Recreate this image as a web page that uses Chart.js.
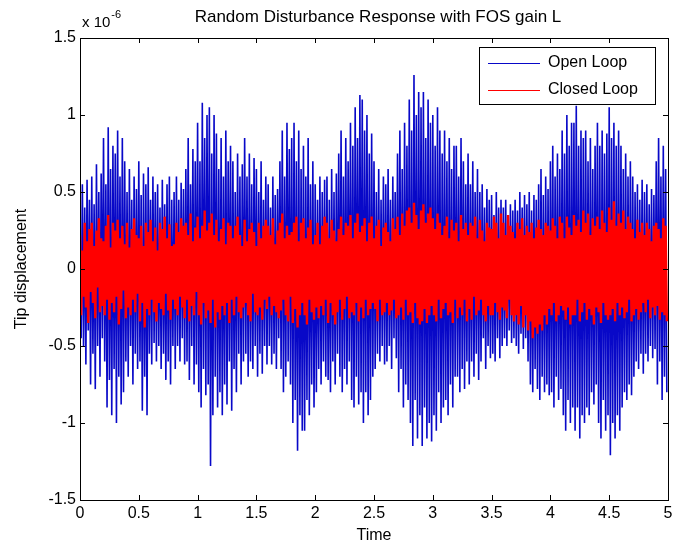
<!DOCTYPE html>
<html><head><meta charset="utf-8">
<script src="https://cdn.jsdelivr.net/npm/chart.js@4.4.0/dist/chart.umd.min.js"></script>
<style>html,body{margin:0;padding:0;background:#fff}#wrap{width:686px;height:546px}canvas{display:block}</style>
</head><body><div id="wrap"><canvas id="c" width="686" height="546"></canvas></div>
<script>
// ---- text ----
const chartTitle = 'Random Disturbance Response with FOS gain L';
const xTitle = 'Time';
const yTitle = 'Tip displacement';
const yExponentBase = 'x 10';
const yExponent = '-6';
const seriesNames = ['Open Loop', 'Closed Loop'];

// ---- ticks ----
const xTicks = [0, 0.5, 1, 1.5, 2, 2.5, 3, 3.5, 4, 4.5, 5];
const xTickLabels = ['0', '0.5', '1', '1.5', '2', '2.5', '3', '3.5', '4', '4.5', '5'];
const yTicks = [1.5, 1, 0.5, 0, -0.5, -1, -1.5];
const yTickLabels = ['1.5', '1', '0.5', '0', '-0.5', '-1', '-1.5'];

// ---- data (tip displacement in units of 1e-6, one sample every 0.01 s) ----
const sampleStep = 0.01;
const openLoop = [
0.25,-0.45,0.55,-0.5,0.4,-0.62,0.58,-0.4,0.45,-0.75,
0.6,-0.55,0.42,-0.78,0.68,-0.5,0.5,-0.7,0.62,-0.45,
0.85,-0.6,0.55,-0.9,0.92,-0.72,0.65,-0.95,0.8,-0.65,
0.75,-1.0,0.9,-0.7,0.6,-0.88,0.85,-0.8,0.7,-0.6,
0.5,-0.7,0.65,-0.5,0.45,-0.75,0.6,-0.55,0.52,-0.65,
0.7,-0.6,0.48,-0.92,0.62,-0.7,0.55,-0.95,0.66,-0.55,
0.45,-0.62,0.6,-0.48,0.5,-0.6,0.55,-0.5,0.4,-0.65,
0.58,-0.55,0.42,-0.72,0.55,-0.6,0.6,-0.75,0.45,-0.5,
0.5,-0.65,0.6,-0.5,0.45,-0.6,0.56,-0.45,0.52,-0.62,
0.65,-0.6,0.85,-0.72,0.55,-0.5,0.78,-0.75,0.7,-0.62,
0.95,-0.8,0.7,-0.9,1.08,-0.65,0.85,-0.82,1.0,-0.75,
1.05,-1.28,0.75,-0.95,1.0,-0.7,0.88,-0.9,0.65,-0.8,
0.85,-0.95,0.6,-0.75,0.9,-0.88,0.7,-0.6,0.8,-0.92,
0.7,-0.65,0.5,-0.8,0.75,-0.55,0.6,-0.75,0.68,-0.6,
0.85,-0.55,0.6,-0.7,0.75,-0.6,0.55,-0.65,0.72,-0.5,
0.65,-0.7,0.5,-0.55,0.7,-0.68,0.45,-0.5,0.6,-0.62,
0.55,-0.5,0.4,-0.62,0.6,-0.55,0.48,-0.65,0.52,-0.45,
0.7,-0.65,0.9,-0.8,0.6,-0.7,0.95,-0.6,0.78,-0.75,
0.85,-1.0,0.95,-0.85,0.7,-1.18,0.9,-0.95,0.65,-1.05,
0.8,-1.05,0.6,-0.85,0.85,-0.95,0.55,-0.75,0.7,-0.9,
0.55,-0.8,0.45,-0.65,0.6,-0.75,0.5,-0.6,0.58,-0.7,
0.6,-0.72,0.45,-0.8,0.65,-0.6,0.5,-0.75,0.62,-0.55,
0.75,-0.7,0.9,-0.8,0.6,-0.65,0.85,-0.75,0.7,-0.6,
0.95,-0.85,0.8,-0.9,1.05,-0.7,0.85,-0.88,1.13,-0.8,
1.1,-1.0,0.9,-0.8,1.0,-0.95,0.75,-0.85,0.88,-0.7,
0.7,-0.65,0.5,-0.55,0.65,-0.6,0.45,-0.5,0.6,-0.62,
0.55,-0.6,0.65,-0.5,0.45,-0.65,0.6,-0.45,0.5,-0.58,
0.75,-0.8,0.9,-0.65,0.65,-0.9,0.95,-0.75,0.8,-0.85,
1.1,-1.0,0.9,-1.15,1.26,-0.85,1.0,-1.1,1.15,-0.95,
1.05,-1.15,1.15,-0.9,0.85,-1.1,1.1,-1.0,0.95,-1.12,
1.0,-0.95,0.8,-1.05,1.05,-0.8,0.9,-1.0,0.75,-0.9,
0.9,-0.85,0.7,-0.95,0.85,-0.75,0.65,-0.9,0.8,-0.7,
0.8,-0.7,0.6,-0.8,0.85,-0.65,0.7,-0.78,0.55,-0.6,
0.75,-0.75,0.55,-0.6,0.7,-0.7,0.5,-0.55,0.65,-0.72,
0.5,-0.6,0.55,-0.45,0.4,-0.65,0.52,-0.5,0.45,-0.58,
0.48,-0.55,0.35,-0.6,0.5,-0.45,0.4,-0.58,0.45,-0.5,
0.4,-0.45,0.45,-0.5,0.35,-0.4,0.42,-0.48,0.38,-0.45,
0.45,-0.5,0.38,-0.55,0.5,-0.42,0.4,-0.52,0.48,-0.45,
0.42,-0.6,0.5,-0.75,0.38,-0.8,0.48,-0.65,0.45,-0.78,
0.55,-0.85,0.65,-0.7,0.48,-0.8,0.6,-0.75,0.52,-0.82,
0.7,-0.8,0.8,-0.9,0.6,-0.7,0.75,-0.85,0.65,-0.78,
0.9,-0.95,0.75,-1.05,1.0,-0.85,0.8,-1.0,0.95,-0.9,
0.95,-1.05,1.06,-0.9,0.8,-1.1,0.9,-0.95,0.85,-1.0,
0.9,-0.9,0.7,-0.95,0.85,-0.8,0.65,-0.88,0.8,-0.75,
0.95,-1.0,0.8,-1.1,0.9,-0.85,0.75,-1.05,0.88,-0.95,
1.05,-1.21,0.85,-1.0,0.95,-1.1,0.8,-0.95,0.9,-1.05,
0.8,-0.9,0.65,-0.8,0.75,-0.85,0.6,-0.75,0.7,-0.82,
0.6,-0.7,0.5,-0.6,0.55,-0.65,0.45,-0.55,0.58,-0.68,
0.5,-0.55,0.55,-0.6,0.42,-0.5,0.52,-0.58,0.48,-0.52,
0.7,-0.75,0.85,-0.6,0.6,-0.85,0.8,-0.7,0.65,-0.8
];
const closedLoop = [
0.22,-0.3,0.12,-0.18,0.3,-0.25,0.18,-0.35,0.26,-0.15,
0.3,-0.22,0.15,-0.32,0.25,-0.12,0.33,-0.28,0.2,-0.24,
0.18,-0.3,0.28,-0.2,0.35,-0.33,0.14,-0.22,0.3,-0.28,
0.25,-0.18,0.32,-0.36,0.2,-0.26,0.28,-0.14,0.16,-0.32,
0.3,-0.25,0.14,-0.3,0.26,-0.2,0.33,-0.28,0.22,-0.16,
0.2,-0.34,0.28,-0.22,0.15,-0.38,0.3,-0.26,0.24,-0.3,
0.32,-0.2,0.18,-0.28,0.27,-0.34,0.12,-0.22,0.3,-0.26,
0.26,-0.3,0.34,-0.16,0.2,-0.27,0.29,-0.33,0.15,-0.2,
0.16,-0.26,0.3,-0.3,0.24,-0.18,0.33,-0.25,0.28,-0.32,
0.3,-0.2,0.22,-0.34,0.36,-0.24,0.18,-0.3,0.27,-0.15,
0.34,-0.3,0.2,-0.36,0.28,-0.22,0.38,-0.32,0.25,-0.27,
0.3,-0.35,0.36,-0.2,0.22,-0.38,0.32,-0.28,0.18,-0.33,
0.26,-0.24,0.33,-0.3,0.16,-0.22,0.3,-0.35,0.28,-0.2,
0.2,-0.3,0.28,-0.18,0.34,-0.28,0.22,-0.32,0.15,-0.25,
0.32,-0.22,0.18,-0.3,0.26,-0.34,0.3,-0.16,0.24,-0.28,
0.15,-0.3,0.3,-0.25,0.2,-0.33,0.28,-0.2,0.32,-0.26,
0.28,-0.18,0.22,-0.3,0.33,-0.24,0.16,-0.28,0.25,-0.32,
0.3,-0.27,0.36,-0.2,0.2,-0.3,0.28,-0.34,0.22,-0.18,
0.24,-0.35,0.3,-0.26,0.34,-0.38,0.18,-0.3,0.3,-0.22,
0.33,-0.3,0.2,-0.36,0.27,-0.2,0.32,-0.28,0.16,-0.33,
0.22,-0.25,0.3,-0.32,0.16,-0.24,0.28,-0.3,0.34,-0.2,
0.3,-0.35,0.2,-0.22,0.32,-0.3,0.25,-0.36,0.18,-0.28,
0.26,-0.2,0.34,-0.33,0.22,-0.26,0.3,-0.18,0.28,-0.32,
0.35,-0.28,0.2,-0.3,0.3,-0.22,0.36,-0.34,0.24,-0.25,
0.28,-0.32,0.33,-0.2,0.18,-0.3,0.3,-0.26,0.34,-0.22,
0.2,-0.26,0.28,-0.34,0.32,-0.2,0.15,-0.3,0.27,-0.28,
0.3,-0.22,0.24,-0.3,0.18,-0.27,0.33,-0.2,0.26,-0.32,
0.34,-0.3,0.22,-0.25,0.36,-0.33,0.28,-0.2,0.38,-0.3,
0.4,-0.28,0.3,-0.35,0.43,-0.22,0.35,-0.32,0.26,-0.36,
0.38,-0.34,0.42,-0.26,0.3,-0.35,0.36,-0.3,0.4,-0.24,
0.33,-0.3,0.26,-0.34,0.36,-0.2,0.3,-0.32,0.22,-0.26,
0.28,-0.22,0.34,-0.3,0.2,-0.28,0.32,-0.35,0.25,-0.2,
0.3,-0.32,0.18,-0.25,0.35,-0.3,0.26,-0.2,0.3,-0.34,
0.22,-0.26,0.3,-0.33,0.28,-0.18,0.34,-0.3,0.2,-0.27,
0.32,-0.2,0.25,-0.3,0.18,-0.34,0.3,-0.24,0.27,-0.3,
0.26,-0.3,0.34,-0.22,0.3,-0.28,0.2,-0.33,0.36,-0.25,
0.3,-0.27,0.22,-0.32,0.35,-0.2,0.28,-0.3,0.24,-0.34,
0.2,-0.3,0.3,-0.36,0.26,-0.24,0.33,-0.38,0.22,-0.3,
0.28,-0.4,0.24,-0.34,0.3,-0.45,0.2,-0.38,0.27,-0.42,
0.32,-0.36,0.26,-0.4,0.22,-0.3,0.3,-0.36,0.28,-0.26,
0.25,-0.3,0.33,-0.22,0.28,-0.34,0.2,-0.3,0.34,-0.24,
0.3,-0.27,0.2,-0.33,0.34,-0.25,0.27,-0.36,0.22,-0.3,
0.35,-0.3,0.28,-0.2,0.32,-0.34,0.24,-0.28,0.38,-0.22,
0.3,-0.33,0.36,-0.26,0.22,-0.3,0.33,-0.36,0.28,-0.25,
0.34,-0.28,0.26,-0.35,0.38,-0.22,0.3,-0.3,0.24,-0.33,
0.4,-0.3,0.32,-0.26,0.44,-0.34,0.28,-0.22,0.36,-0.3,
0.3,-0.25,0.38,-0.32,0.26,-0.28,0.34,-0.2,0.3,-0.34,
0.26,-0.3,0.2,-0.26,0.32,-0.33,0.24,-0.28,0.3,-0.22,
0.22,-0.28,0.3,-0.2,0.26,-0.32,0.18,-0.25,0.28,-0.3,
0.3,-0.24,0.26,-0.33,0.2,-0.28,0.33,-0.3,0.28,-0.34
];

const toPoints = arr => arr.map((v, i) => ({ x: i * sampleStep, y: v }));

const FONT = '"Liberation Sans", Arial, sans-serif';

const matlabAxes = {
  id: 'matlabAxes',
  afterDraw(chart) {
    const ctx = chart.ctx;
    const a = chart.chartArea;
    const xs = chart.scales.x, ys = chart.scales.y;
    ctx.save();
    ctx.strokeStyle = '#000';
    ctx.lineWidth = 1;
    ctx.strokeRect(Math.round(a.left) + 0.5, Math.round(a.top) + 0.5,
                   Math.round(a.right - a.left), Math.round(a.bottom - a.top));
    const tl = 5;
    ctx.beginPath();
    xTicks.forEach(t => {
      const px = Math.round(xs.getPixelForValue(t)) + 0.5;
      ctx.moveTo(px, a.bottom); ctx.lineTo(px, a.bottom - tl);
      ctx.moveTo(px, a.top); ctx.lineTo(px, a.top + tl);
    });
    yTicks.forEach(t => {
      const py = Math.round(ys.getPixelForValue(t)) + 0.5;
      ctx.moveTo(a.left, py); ctx.lineTo(a.left + tl, py);
      ctx.moveTo(a.right, py); ctx.lineTo(a.right - tl, py);
    });
    ctx.stroke();

    ctx.fillStyle = '#000';
    ctx.font = '16px ' + FONT;
    ctx.textAlign = 'center'; ctx.textBaseline = 'top';
    xTicks.forEach((t, i) => ctx.fillText(xTickLabels[i], xs.getPixelForValue(t), a.bottom + 6));
    ctx.textAlign = 'right'; ctx.textBaseline = 'middle';
    yTicks.forEach((t, i) => ctx.fillText(yTickLabels[i], a.left - 4, ys.getPixelForValue(t)));
    ctx.textAlign = 'center'; ctx.textBaseline = 'middle';
    ctx.fillText(xTitle, (a.left + a.right) / 2, 536);
    ctx.save();
    ctx.translate(22, (a.top + a.bottom) / 2);
    ctx.rotate(-Math.PI / 2);
    ctx.fillText(yTitle, 0, 0);
    ctx.restore();
    ctx.font = '17px ' + FONT;
    ctx.fillText(chartTitle, (a.left + a.right) / 2 + 4, 17);
    ctx.font = '15px ' + FONT;
    ctx.textAlign = 'left';
    ctx.fillText(yExponentBase, a.left + 2, 23);
    const w = ctx.measureText(yExponentBase).width;
    ctx.font = '11px ' + FONT;
    ctx.fillText(yExponent, a.left + 3 + w, 15);

    const lx = 479, ly = 47, lw = 176, lh = 57;
    ctx.fillStyle = '#fff';
    ctx.fillRect(lx, ly, lw, lh);
    ctx.strokeStyle = '#000';
    ctx.strokeRect(lx + 0.5, ly + 0.5, lw, lh);
    const rows = [63, 90];
    ctx.font = '16px ' + FONT;
    ctx.textBaseline = 'middle';
    ctx.textAlign = 'left';
    seriesNames.forEach((name, i) => {
      const ds = chart.data.datasets.find(d => d.label === name);
      ctx.strokeStyle = ds.borderColor;
      ctx.lineWidth = 1;
      ctx.beginPath();
      ctx.moveTo(488, rows[i] + 0.5); ctx.lineTo(540, rows[i] + 0.5);
      ctx.stroke();
      ctx.fillStyle = '#000';
      ctx.fillText(name, 548, rows[i]);
    });
    ctx.restore();
  }
};

new Chart(document.getElementById('c'), {
  type: 'line',
  data: {
    datasets: [
      { label: seriesNames[0], data: toPoints(openLoop), borderColor: 'rgb(8,8,200)', borderWidth: 1.6, order: 2 },
      { label: seriesNames[1], data: toPoints(closedLoop), borderColor: 'rgb(255,0,0)', borderWidth: 2.4, order: 1 }
    ]
  },
  options: {
    responsive: false,
    animation: false,
    devicePixelRatio: 1,
    parsing: false,
    normalized: true,
    layout: { padding: { top: 38, right: 18, left: 0, bottom: 0 } },
    elements: {
      point: { radius: 0 },
      line: { tension: 0, borderJoinStyle: 'bevel', fill: false }
    },
    plugins: { legend: { display: false }, title: { display: false }, tooltip: { enabled: false } },
    scales: {
      x: {
        type: 'linear', min: 0, max: 5,
        ticks: { display: false }, grid: { display: false }, border: { display: false },
        afterFit: s => { s.height = 46; }
      },
      y: {
        type: 'linear', min: -1.5, max: 1.5,
        ticks: { display: false }, grid: { display: false }, border: { display: false },
        afterFit: s => { s.width = 80; }
      }
    }
  },
  plugins: [matlabAxes]
});
</script>
</body></html>
